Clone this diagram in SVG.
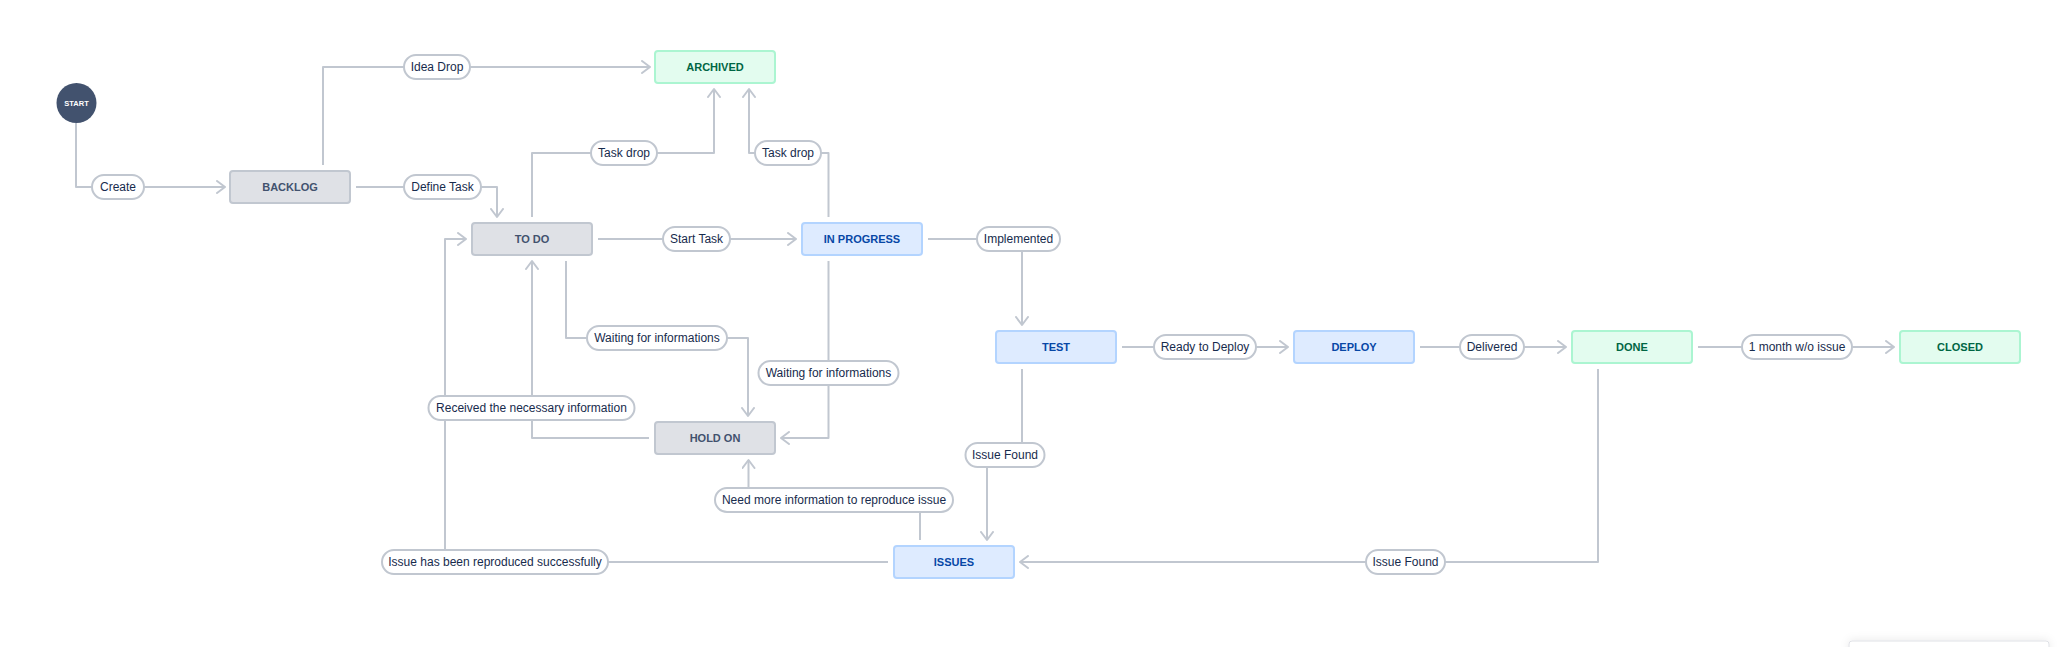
<svg xmlns="http://www.w3.org/2000/svg" width="2058" height="647" viewBox="0 0 2058 647">
<style>
.bg{fill:#ffffff}
.edge{fill:none;stroke:#c1c7d0;stroke-width:2;stroke-linejoin:round;marker-end:url(#arr)}
.n rect{stroke-width:2}
.gray rect{fill:#dfe1e6;stroke:#c1c7d0}
.blue rect{fill:#deebff;stroke:#b3d4ff}
.green rect{fill:#e3fcef;stroke:#abf5d1}
.n text{font-family:"Liberation Sans",Arial,sans-serif;font-size:11px;font-weight:bold;text-anchor:middle}
.gray text{fill:#42526e}
.blue text{fill:#0747a6}
.green text{fill:#006644}
.lbl rect{fill:#ffffff;stroke:#c1c7d0;stroke-width:2}
.lbl text{font-family:"Liberation Sans",Arial,sans-serif;font-size:12px;fill:#172b4d;text-anchor:middle}
</style>
<defs>
<marker id="arr" markerUnits="userSpaceOnUse" markerWidth="12" markerHeight="14" refX="9" refY="7" orient="auto">
<path d="M1,1 L9,7 L1,13" fill="none" stroke="#c1c7d0" stroke-width="2" stroke-linecap="round" stroke-linejoin="round"/>
</marker>
<filter id="sh" x="-20%" y="-200%" width="140%" height="500%">
<feDropShadow dx="0" dy="-1" stdDeviation="4" flood-color="#091e42" flood-opacity="0.08"/>
</filter>
</defs>
<rect class="bg" x="0" y="0" width="2058" height="647"/>

<g id="connectors">
<path class="edge" d="M76,123 V187 H225"/>
<path class="edge" d="M323,165 V67 H650"/>
<path class="edge" d="M356,187 H497 V217"/>
<path class="edge" d="M532,217 V153 H714 V89"/>
<path class="edge" d="M828.5,217 V153 H749 V89"/>
<path class="edge" d="M598,239 H796"/>
<path class="edge" d="M928,239 H1022 V325"/>
<path class="edge" d="M1122,347 H1288"/>
<path class="edge" d="M1420,347 H1566"/>
<path class="edge" d="M1698,347 H1894"/>
<path class="edge" d="M1598,369 V562 H1020"/>
<path class="edge" d="M1022,369 V455 H987 V540"/>
<path class="edge" d="M920,540 V500 H748.5 V460"/>
<path class="edge" d="M888,562 H445 V239 H466"/>
<path class="edge" d="M649,438 H532 V261"/>
<path class="edge" d="M566,261 V338 H748 V416"/>
<path class="edge" d="M828.5,261 V438 H781"/>
</g>

<g id="labels">
<g class="lbl" id="lbl-create"><rect x="92" y="175" width="52" height="24" rx="12"/><text x="118" y="191">Create</text></g>
<g class="lbl" id="lbl-idea-drop"><rect x="404" y="55" width="66" height="24" rx="12"/><text x="437" y="71">Idea Drop</text></g>
<g class="lbl" id="lbl-define-task"><rect x="404" y="175" width="77" height="24" rx="12"/><text x="442.5" y="191">Define Task</text></g>
<g class="lbl" id="lbl-task-drop-1"><rect x="591" y="141" width="66" height="24" rx="12"/><text x="624" y="157">Task drop</text></g>
<g class="lbl" id="lbl-task-drop-2"><rect x="755" y="141" width="66" height="24" rx="12"/><text x="788" y="157">Task drop</text></g>
<g class="lbl" id="lbl-start-task"><rect x="663" y="227" width="67" height="24" rx="12"/><text x="696.5" y="243">Start Task</text></g>
<g class="lbl" id="lbl-implemented"><rect x="977" y="227" width="83" height="24" rx="12"/><text x="1018.5" y="243">Implemented</text></g>
<g class="lbl" id="lbl-waiting-1"><rect x="587" y="326" width="140" height="24" rx="12"/><text x="657" y="342">Waiting for informations</text></g>
<g class="lbl" id="lbl-waiting-2"><rect x="758.5" y="361" width="140" height="24" rx="12"/><text x="828.5" y="377">Waiting for informations</text></g>
<g class="lbl" id="lbl-received"><rect x="428.5" y="396" width="206" height="24" rx="12"/><text x="531.5" y="412">Received the necessary information</text></g>
<g class="lbl" id="lbl-ready"><rect x="1154" y="335" width="102" height="24" rx="12"/><text x="1205" y="351">Ready to Deploy</text></g>
<g class="lbl" id="lbl-delivered"><rect x="1460" y="335" width="64" height="24" rx="12"/><text x="1492" y="351">Delivered</text></g>
<g class="lbl" id="lbl-month"><rect x="1742" y="335" width="110" height="24" rx="12"/><text x="1797" y="351">1 month w/o issue</text></g>
<g class="lbl" id="lbl-issue-found-1"><rect x="965.5" y="443" width="79" height="24" rx="12"/><text x="1005" y="459">Issue Found</text></g>
<g class="lbl" id="lbl-issue-found-2"><rect x="1366" y="550" width="79" height="24" rx="12"/><text x="1405.5" y="566">Issue Found</text></g>
<g class="lbl" id="lbl-need-more"><rect x="715" y="488" width="238" height="24" rx="12"/><text x="834" y="504">Need more information to reproduce issue</text></g>
<g class="lbl" id="lbl-reproduced"><rect x="382" y="550" width="226" height="24" rx="12"/><text x="495" y="566">Issue has been reproduced successfully</text></g>
</g>

<g id="node-start"><circle cx="76.5" cy="103" r="20" fill="#42526e"/><text x="76.5" y="105.7" font-family="Liberation Sans,Arial,sans-serif" font-size="7.5" font-weight="bold" fill="#ffffff" text-anchor="middle">START</text></g>
<g id="node-backlog" class="n gray"><rect x="230" y="171" width="120" height="32" rx="3"/><text x="290" y="191">BACKLOG</text></g>
<g id="node-archived" class="n green"><rect x="655" y="51" width="120" height="32" rx="3"/><text x="715" y="71">ARCHIVED</text></g>
<g id="node-todo" class="n gray"><rect x="472" y="223" width="120" height="32" rx="3"/><text x="532" y="243">TO DO</text></g>
<g id="node-inprogress" class="n blue"><rect x="802" y="223" width="120" height="32" rx="3"/><text x="862" y="243">IN PROGRESS</text></g>
<g id="node-test" class="n blue"><rect x="996" y="331" width="120" height="32" rx="3"/><text x="1056" y="351">TEST</text></g>
<g id="node-deploy" class="n blue"><rect x="1294" y="331" width="120" height="32" rx="3"/><text x="1354" y="351">DEPLOY</text></g>
<g id="node-done" class="n green"><rect x="1572" y="331" width="120" height="32" rx="3"/><text x="1632" y="351">DONE</text></g>
<g id="node-closed" class="n green"><rect x="1900" y="331" width="120" height="32" rx="3"/><text x="1960" y="351">CLOSED</text></g>
<g id="node-holdon" class="n gray"><rect x="655" y="422" width="120" height="32" rx="3"/><text x="715" y="442">HOLD ON</text></g>
<g id="node-issues" class="n blue"><rect x="894" y="546" width="120" height="32" rx="3"/><text x="954" y="566">ISSUES</text></g>

<rect x="1849" y="641" width="200" height="20" rx="3" fill="#ffffff" stroke="#dfe1e6" stroke-width="1" filter="url(#sh)"/>
</svg>
